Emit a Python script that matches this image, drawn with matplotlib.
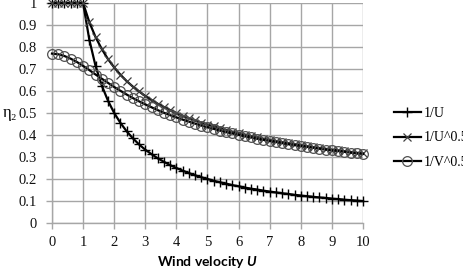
import matplotlib.pyplot as plt
import numpy as np

plt.rcParams['mathtext.fontset'] = 'custom'
plt.rcParams['mathtext.rm'] = 'Lato:bold'
plt.rcParams['mathtext.it'] = 'Lato:italic:bold'

# wind velocity, step 0.2
u = [0.0, 0.2, 0.4, 0.6, 0.8, 1.0, 1.2, 1.4, 1.6, 1.8,
     2.0, 2.2, 2.4, 2.6, 2.8, 3.0, 3.2, 3.4, 3.6, 3.8,
     4.0, 4.2, 4.4, 4.6, 4.8, 5.0, 5.2, 5.4, 5.6, 5.8,
     6.0, 6.2, 6.4, 6.6, 6.8, 7.0, 7.2, 7.4, 7.6, 7.8,
     8.0, 8.2, 8.4, 8.6, 8.8, 9.0, 9.2, 9.4, 9.6, 9.8, 10.0]

inv_u = [1.0, 1.0, 1.0, 1.0, 1.0, 1.0, 0.833, 0.714, 0.625, 0.556,
         0.5, 0.455, 0.417, 0.385, 0.357, 0.333, 0.313, 0.294, 0.278, 0.263,
         0.25, 0.238, 0.227, 0.217, 0.208, 0.2, 0.192, 0.185, 0.179, 0.172,
         0.167, 0.161, 0.156, 0.152, 0.147, 0.143, 0.139, 0.135, 0.132, 0.128,
         0.125, 0.122, 0.119, 0.116, 0.114, 0.111, 0.109, 0.106, 0.104, 0.102, 0.1]

inv_sqrt_u = [1.0, 1.0, 1.0, 1.0, 1.0, 1.0, 0.913, 0.845, 0.791, 0.745,
              0.707, 0.674, 0.645, 0.620, 0.598, 0.577, 0.559, 0.542, 0.527, 0.513,
              0.5, 0.488, 0.477, 0.466, 0.456, 0.447, 0.439, 0.430, 0.423, 0.415,
              0.408, 0.402, 0.395, 0.389, 0.383, 0.378, 0.373, 0.368, 0.363, 0.358,
              0.354, 0.349, 0.345, 0.341, 0.337, 0.333, 0.330, 0.326, 0.323, 0.319, 0.316]

inv_sqrt_v = [0.770, 0.767, 0.759, 0.747, 0.732, 0.714, 0.695, 0.675, 0.656, 0.637,
              0.618, 0.601, 0.584, 0.568, 0.553, 0.539, 0.526, 0.513, 0.501, 0.490,
              0.480, 0.470, 0.461, 0.452, 0.443, 0.435, 0.428, 0.420, 0.413, 0.407,
              0.401, 0.394, 0.389, 0.383, 0.378, 0.373, 0.368, 0.363, 0.358, 0.354,
              0.350, 0.346, 0.342, 0.338, 0.334, 0.330, 0.327, 0.324, 0.320, 0.317, 0.314]

labels = ['1/U', '1/U^0.5', '1/V^0.5']

fig = plt.figure(figsize=(4.64, 2.76), dpi=100)
ax = fig.add_axes([52/464, 53/276, 311/464, 220/276])

grid_c = '#a6a6a6'
ax.plot(u, inv_u, color='black', lw=1.6, marker='+', ms=7, mew=1.0,
        label=labels[0], clip_on=False, zorder=3)
ax.plot(u, inv_sqrt_u, color='black', lw=1.6, marker='x', ms=5.5, mew=0.9,
        mec='#404040', label=labels[1], clip_on=False, zorder=4)
ax.plot(u, inv_sqrt_v, color='black', lw=1.6, marker='o', ms=7, mew=0.9,
        mfc='none', mec='#505050', label=labels[2], clip_on=False, zorder=5)

ax.set_xlim(0, 10)
ax.set_ylim(0, 1)
ax.set_xticks(np.arange(0, 11, 1))
ax.set_yticks(np.arange(0, 1.01, 0.1))
ax.set_yticklabels(['0', '0.1', '0.2', '0.3', '0.4', '0.5', '0.6', '0.7', '0.8', '0.9', '1'])
ax.grid(True, color=grid_c, lw=1.0)
ax.set_axisbelow(True)
for s in ['top', 'right']:
    ax.spines[s].set_visible(False)
for s in ['left', 'bottom']:
    ax.spines[s].set_color(grid_c)
    ax.spines[s].set_linewidth(1.0)
ax.tick_params(length=4, width=1.0, color=grid_c, labelsize=10.5)
ax.tick_params(axis='y', pad=7)
ax.tick_params(axis='x', pad=5)
for t in ax.get_xticklabels() + ax.get_yticklabels():
    t.set_family('Liberation Serif')
    t.set_color('#111111')

ax.set_xlabel('Wind velocity $\\mathit{U}$', fontsize=10, fontweight='bold',
              family='Lato', labelpad=4)
fig.text(3/464, 1 - 113/276, '\u03b7\u2082', fontsize=12, va='center', ha='left',
         family=['Liberation Serif', 'DejaVu Serif'])

fig.legend(loc='upper left', bbox_to_anchor=(388/464, 1 - 101/276), frameon=False,
           prop={'family': 'Liberation Serif', 'size': 10}, handlelength=2.0,
           labelspacing=0.85, handletextpad=0.2, borderaxespad=0)

fig.savefig('out.png', dpi=100)
